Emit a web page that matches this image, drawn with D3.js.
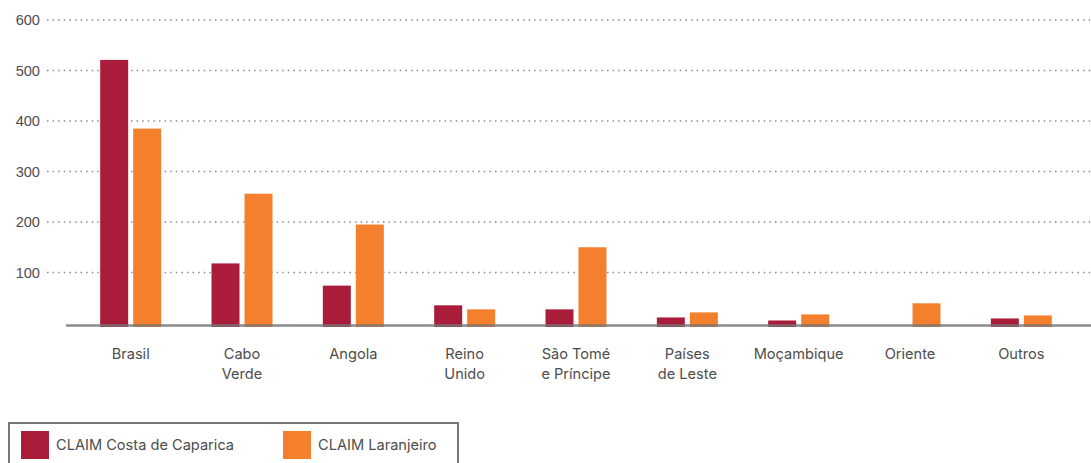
<!DOCTYPE html>
<html>
<head>
  <meta charset="utf-8">
  <title>CLAIM</title>
  <style type="text/css">
    body { margin: 0; background-color: #fff; }
    svg { display: block; font-family: Inter, Roboto, sans-serif; }
    .tick text, .cat { fill: #4d4d4d; font-size: 14.6px; }
  </style>
  <script src="https://d3js.org/d3.v7.min.js"></script>
</head>
<body>
<script>
// chart data
var categories = [["Brasil"], ["Cabo", "Verde"], ["Angola"], ["Reino", "Unido"],
                  ["São Tomé", "e Príncipe"], ["Países", "de Leste"], ["Moçambique"], ["Oriente"], ["Outros"]];
var costaCaparica = [521, 118, 74, 35, 27, 11, 5, 0, 9];
var laranjeiro = [385, 256, 195, 27, 150, 21, 17, 39, 15];
var seriesNames = ["CLAIM Costa de Caparica", "CLAIM Laranjeiro"];
var yTicks = [100, 200, 300, 400, 500, 600];

var colors = ["#a91d3a", "#f4802e"];
var width = 1091, height = 463;

var svg = d3.select("body").append("svg")
    .attr("width", width)
    .attr("height", height);

var catKeys = categories.map(function(d) { return d.join(" "); });

var x = d3.scaleBand()
    .domain(catKeys)
    .range([75, 1077])
    .paddingInner(0);

var y = d3.scaleLinear()
    .domain([0, 600])
    .range([323, 20]);

// gridlines + y labels
var yaxis = d3.axisLeft(y)
    .tickValues(yTicks)
    .tickSize(0)
    .tickPadding(7);

var gy = svg.append("g")
    .attr("transform", "translate(47,0)")
    .call(yaxis);
gy.select(".domain").remove();
gy.selectAll(".tick text").attr("font-size", null).attr("font-family", null);

svg.append("g").selectAll("line")
  .data(yTicks)
  .enter().append("line")
    .attr("x1", 47)
    .attr("x2", width)
    .attr("y1", function(d) { return y(d); })
    .attr("y2", function(d) { return y(d); })
    .style("stroke", "#8a8a8a")
    .style("stroke-width", 1.5)
    .style("stroke-dasharray", "1.5,4.1");

// bars
var barW = 28, gap = 5;
var series = [costaCaparica, laranjeiro];

series.forEach(function(vals, s) {
  svg.append("g").selectAll("rect")
    .data(vals)
    .enter().append("rect")
      .attr("x", function(d, i) { return x(catKeys[i]) + x.bandwidth() / 2 - barW - gap / 2 + s * (barW + gap); })
      .attr("y", function(d) { return y(d); })
      .attr("width", barW)
      .attr("height", function(d) { return d > 0 ? y(0) - y(d) + 4 : 0; })
      .style("fill", colors[s]);
});

// baseline
svg.append("line")
  .attr("x1", 66).attr("x2", width)
  .attr("y1", y(0) + 2.5).attr("y2", y(0) + 2.5)
  .style("stroke", "#777")
  .style("stroke-width", 2.5)
  .style("opacity", 0.85);

// category labels
var cat = svg.append("g").selectAll("text")
  .data(categories)
  .enter().append("text")
    .attr("class", "cat")
    .attr("text-anchor", "middle")
    .attr("x", function(d, i) { return x(catKeys[i]) + x.bandwidth() / 2; })
    .attr("y", 359);
cat.selectAll("tspan")
  .data(function(d) { return d; })
  .enter().append("tspan")
    .attr("x", function() { return d3.select(this.parentNode).attr("x"); })
    .attr("dy", function(d, i) { return i ? 20 : 0; })
    .text(function(d) { return d; });

// legend
var legend = svg.append("g");
legend.append("rect")
  .attr("x", 9).attr("y", 423)
  .attr("width", 449).attr("height", 50)
  .style("fill", "none")
  .style("stroke", "#777")
  .style("stroke-width", 2);

var legX = [21, 283];
seriesNames.forEach(function(name, i) {
  legend.append("rect")
    .attr("x", legX[i]).attr("y", 431)
    .attr("width", 28).attr("height", 28)
    .style("fill", colors[i]);
  legend.append("text")
    .attr("class", "cat")
    .attr("x", legX[i] + 35).attr("y", 450)
    .text(name);
});
</script>
</body>
</html>
